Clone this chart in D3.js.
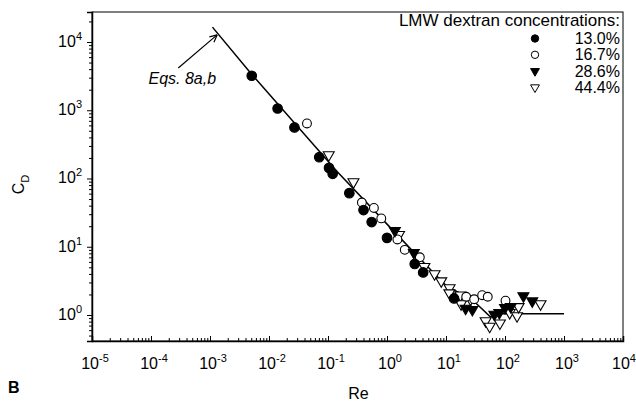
<!DOCTYPE html>
<html>
<head>
<meta charset="utf-8">
<script src="https://cdn.jsdelivr.net/npm/d3@7"></script>
<style>
  body { margin: 0; background: #fff; }
  svg { display: block; font-family: "Liberation Sans", Arial, sans-serif; }
</style>
</head>
<body>
<svg id="chart"></svg>
<script>
// Data (Re, C_D)
const re13 = [0.0051, 0.014, 0.027, 0.071, 0.104, 0.12, 0.23, 0.40, 0.55, 1.0, 2.95, 4.1, 13.7];
const cd13 = [3200, 1060, 560, 205, 143, 117, 61, 34.5, 23, 13.5, 5.6, 4.2, 1.75];

const re167 = [0.044, 0.375, 0.60, 0.80, 1.5, 2.0, 3.6, 22, 30, 41, 51, 102];
const cd167 = [640, 44.5, 37, 26, 12.8, 9.0, 7.0, 1.85, 1.7, 1.95, 1.85, 1.62];

const re286 = [1.36, 2.85, 21.5, 28, 66, 80, 100, 125, 205, 290];
const cd286 = [17.2, 8.2, 1.25, 1.2, 1.02, 1.08, 1.28, 1.32, 1.9, 1.6];

const re444 = [0.103, 0.27, 1.6, 4.3, 6.4, 8.3, 11.5, 11.4, 17.5, 18, 26, 47, 55, 82, 120, 160, 170, 400];
const cd444 = [222, 89, 15, 5.1, 4.0, 3.15, 2.5, 2.1, 1.95, 1.45, 1.7, 0.82, 0.68, 0.76, 1.08, 0.97, 1.32, 1.45];

// Eqs. 8a,b
const modelRe = [1.1e-3, 5.2e-3, 0.145, 1.15, 4.9, 10.6, 26, 57, 70, 1000];
const modelCd = [16500, 3290, 124, 18.9, 5.1, 2.57, 1.77, 0.93, 1.04, 1.04];

const seriesNames = ["13.0%", "16.7%", "28.6%", "44.4%"];
const xTickExps = [-5, -4, -3, -2, -1, 0, 1, 2, 3, 4];
const yTickExps = [0, 1, 2, 3, 4];

const width = 636, height = 407;
const margin = { top: 12, right: 13, bottom: 66, left: 92 };

const svg = d3.select("#chart").attr("width", width).attr("height", height);

const x = d3.scaleLog().domain([1e-5, 1e4]).range([margin.left, width - margin.right]);
const y = d3.scaleLog().domain([0.416, 27500]).range([height - margin.bottom, margin.top]);

// minor tick values
function minors(lo, hi) {
    const out = [];
    for (let e = lo; e <= hi; e++) {
        for (let m = 2; m <= 9; m++) out.push(m * Math.pow(10, e));
    }
    return out;
}
const yMinor = minors(-1, 4).filter(v => v >= y.domain()[0] && v <= y.domain()[1]);
const xMinor = minors(-5, 3);

const x0 = height - margin.bottom;

// frame
svg.append("rect")
    .attr("x", margin.left).attr("y", margin.top)
    .attr("width", width - margin.left - margin.right)
    .attr("height", x0 - margin.top)
    .attr("fill", "none").attr("stroke", "#000").attr("stroke-width", 1);

// x axis (ticks inside)
svg.append("g")
    .attr("transform", `translate(0, ${x0})`)
    .call(d3.axisBottom(x).tickValues(xTickExps.map(e => Math.pow(10, e))).tickSize(-5).tickFormat(""))
    .call(g => g.select(".domain").attr("stroke-width", 1.5));
svg.append("g")
    .attr("transform", `translate(0, ${x0})`)
    .call(d3.axisBottom(x).tickValues(xMinor).tickSize(-3).tickFormat(""))
    .call(g => g.select(".domain").remove());

// y axis (ticks outside)
svg.append("g")
    .attr("transform", `translate(${margin.left}, 0)`)
    .call(d3.axisLeft(y).tickValues(yTickExps.map(e => Math.pow(10, e))).tickSize(5).tickFormat(""))
    .call(g => g.select(".domain").attr("stroke-width", 1.5));
svg.append("g")
    .attr("transform", `translate(${margin.left}, 0)`)
    .call(d3.axisLeft(y).tickValues(yMinor).tickSize(3).tickFormat(""))
    .call(g => g.select(".domain").remove());

// tick labels with superscripts
function powLabel(sel, e) {
    sel.append("tspan").text("10");
    sel.append("tspan").attr("dy", -7).attr("font-size", 11).text(e < 0 ? "-" + (-e) : e);
}
xTickExps.forEach(e => {
    const t = svg.append("text")
        .attr("x", Math.min(x(Math.pow(10, e)) + 3, width - 12))
        .attr("y", x0 + 28)
        .attr("text-anchor", "middle")
        .attr("font-size", 16);
    powLabel(t, e);
});
yTickExps.forEach(e => {
    const t = svg.append("text")
        .attr("x", margin.left - 10)
        .attr("y", y(Math.pow(10, e)) + 5)
        .attr("text-anchor", "end")
        .attr("font-size", 16);
    powLabel(t, e);
});

// axis titles
svg.append("text")
    .attr("x", (margin.left + width - margin.right) / 2 + 1)
    .attr("y", height - 8)
    .attr("text-anchor", "middle")
    .attr("font-size", 16)
    .text("Re");

const yt = svg.append("text")
    .attr("transform", `translate(24, ${(margin.top + x0) / 2 + 8}) rotate(-90)`)
    .attr("text-anchor", "middle")
    .attr("font-size", 16);
yt.append("tspan").text("C");
yt.append("tspan").attr("dy", 5).attr("font-size", 11).text("D");

svg.append("text")
    .attr("x", 8).attr("y", height - 14)
    .attr("font-size", 16).attr("font-weight", "bold")
    .text("B");

// model line
const line = d3.line().x(d => x(d[0])).y(d => y(d[1]));
svg.append("path")
    .datum(modelRe.map((r, i) => [r, modelCd[i]]))
    .attr("d", line)
    .attr("fill", "none").attr("stroke", "#000").attr("stroke-width", 1.5);

// markers
const tri = d3.symbol().type(d3.symbolTriangle).size(52);
const triSmall = d3.symbol().type(d3.symbolTriangle).size(34);

function drawSeries(reArr, cdArr, kind) {
    const pts = reArr.map((r, i) => [r, cdArr[i]]);
    const g = svg.append("g");
    if (kind === "fc" || kind === "oc") {
        g.selectAll("circle").data(pts).join("circle")
            .attr("cx", d => x(d[0])).attr("cy", d => y(d[1]))
            .attr("r", kind === "fc" ? 4.8 : 4.4)
            .attr("fill", kind === "fc" ? "#000" : "#fff")
            .attr("stroke", "#000").attr("stroke-width", 1.1);
    } else {
        g.selectAll("path").data(pts).join("path")
            .attr("d", tri)
            .attr("transform", d => `translate(${x(d[0])}, ${y(d[1])}) rotate(180)`)
            .attr("fill", kind === "ft" ? "#000" : "#fff")
            .attr("stroke", "#000").attr("stroke-width", 1.1);
    }
}
drawSeries(re444, cd444, "ot");
drawSeries(re167, cd167, "oc");
drawSeries(re286, cd286, "ft");
drawSeries(re13, cd13, "fc");

// annotation
const tip = [x(1.32e-3), y(12700)];
const tail = [x(2.9e-4), y(4150)];
svg.append("line")
    .attr("x1", tail[0]).attr("y1", tail[1]).attr("x2", tip[0]).attr("y2", tip[1])
    .attr("stroke", "#000").attr("stroke-width", 1.2);
const ang = Math.atan2(tip[1] - tail[1], tip[0] - tail[0]);
[-0.45, 0.45].forEach(a => {
    svg.append("line")
        .attr("x1", tip[0]).attr("y1", tip[1])
        .attr("x2", tip[0] - 8 * Math.cos(ang + a))
        .attr("y2", tip[1] - 8 * Math.sin(ang + a))
        .attr("stroke", "#000").attr("stroke-width", 1.2);
});
svg.append("text")
    .attr("x", tail[0] + 4).attr("y", tail[1] + 16)
    .attr("text-anchor", "middle")
    .attr("font-size", 16).attr("font-style", "italic")
    .text("Eqs. 8a,b");

// legend
const lgX = width - margin.right - 3;
svg.append("text")
    .attr("x", lgX).attr("y", 26)
    .attr("text-anchor", "end").attr("font-size", 17)
    .text("LMW dextran concentrations:");
const kinds = ["fc", "oc", "ft", "ot"];
seriesNames.forEach((name, i) => {
    const cy = 38.5 + i * 16.3;
    svg.append("text")
        .attr("x", lgX).attr("y", cy + 5.5)
        .attr("text-anchor", "end").attr("font-size", 16)
        .text(name);
    const sx = 535;
    const k = kinds[i];
    if (k === "fc" || k === "oc") {
        svg.append("circle").attr("cx", sx).attr("cy", cy).attr("r", 3.7)
            .attr("fill", k === "fc" ? "#000" : "#fff").attr("stroke", "#000");
    } else {
        svg.append("path").attr("d", triSmall)
            .attr("transform", `translate(${sx}, ${cy}) rotate(180)`)
            .attr("fill", k === "ft" ? "#000" : "#fff").attr("stroke", "#000");
    }
});
</script>
</body>
</html>
